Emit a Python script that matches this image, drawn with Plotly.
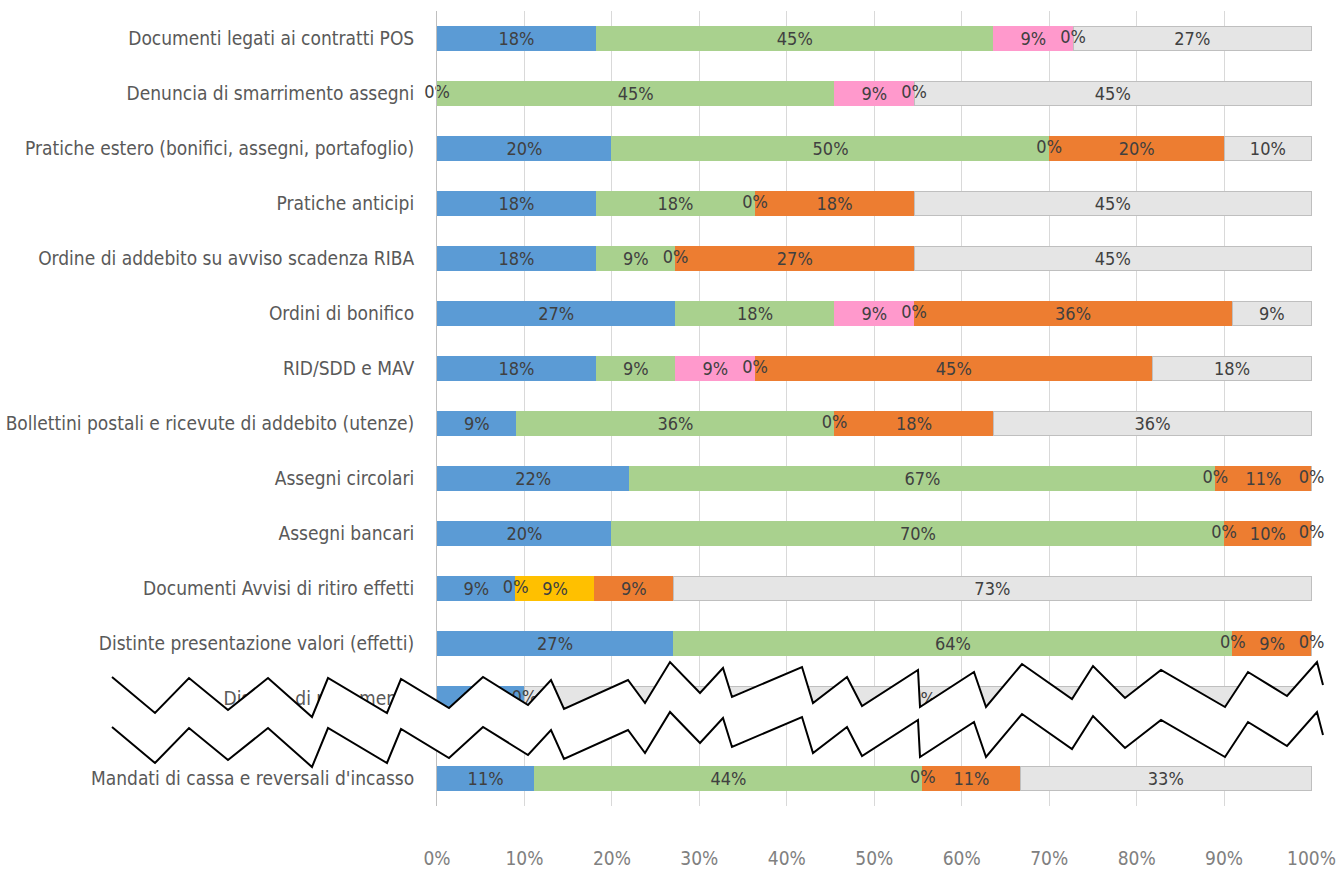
import plotly.graph_objects as go

categories = [
    "Documenti legati ai contratti POS",
    "Denuncia di smarrimento assegni",
    "Pratiche estero (bonifici, assegni, portafoglio)",
    "Pratiche anticipi",
    "Ordine di addebito su avviso scadenza RIBA",
    "Ordini di bonifico",
    "RID/SDD e MAV",
    "Bollettini postali e ricevute di addebito (utenze)",
    "Assegni circolari",
    "Assegni bancari",
    "Documenti Avvisi di ritiro effetti",
    "Distinte presentazione valori (effetti)",
    "Distinte di pagamento",
    "Mandati di cassa e reversali d'incasso",
]

serie_blu = [18, 0, 20, 18, 18, 27, 18, 9, 22, 20, 9, 27, 10, 11]
serie_verde = [45, 45, 50, 18, 9, 18, 9, 36, 67, 70, 0, 64, 0, 44]
serie_rosa = [9, 9, None, None, None, 9, 9, None, None, None, None, None, None, None]
serie_gialla = [0, 0, 0, 0, 0, 0, 0, 0, 0, 0, 9, 0, None, 0]
serie_arancio = [None, None, 20, 18, 27, 36, 45, 18, 11, 10, 9, 9, None, 11]
serie_grigia = [27, 45, 10, 45, 45, 9, 18, 36, 0, 0, 73, 0, 90, 33]

series = [
    ("Serie 1", serie_blu, "#5B9BD5"),
    ("Serie 2", serie_verde, "#A9D18E"),
    ("Serie 3", serie_rosa, "#FF99CC"),
    ("Serie 4", serie_gialla, "#FFC000"),
    ("Serie 5", serie_arancio, "#ED7D31"),
    ("Serie 6", serie_grigia, "#E5E5E5"),
]

x_ticks = [0, 10, 20, 30, 40, 50, 60, 70, 80, 90, 100]

FONT = "Liberation Sans Narrow, DejaVu Sans Condensed, Arial Narrow, sans-serif"
LABEL_FONT = dict(family=FONT, size=18, color="#404040")

fig = go.Figure()
n_top = len(categories) - 1
panels = ((slice(0, n_top), "y"), (slice(n_top, None), "y2"))

for name, vals, color in series:
    txt = [f"{v}%" if v is not None else None for v in vals]
    line_col = "#BFBFBF" if color == "#E5E5E5" else color
    for sl, ax in panels:
        fig.add_trace(go.Bar(
            name=name,
            y=categories[sl],
            x=vals[sl],
            text=txt[sl],
            orientation="h",
            yaxis=ax,
            xaxis="x",
            marker=dict(color=color, line=dict(color=line_col, width=1)),
            textposition="inside",
            insidetextanchor="middle",
            constraintext="none",
            textangle=0,
            textfont=LABEL_FONT,
            showlegend=False,
            hoverinfo="skip",
        ))

# "0%" labels for zero-width segments (bars of zero width carry no text)
row_totals = [sum(v[i] for _, v, _ in series if v[i] is not None)
              for i in range(len(categories))]
zero_x, zero_y = [], []
for i, cat in enumerate(categories):
    cum = 0
    for _, vals, _ in series:
        v = vals[i]
        if v is None:
            continue
        if v == 0:
            zero_x.append(cum / row_totals[i] * 100)
            zero_y.append(cat)
        cum += v
for in_panel, ax in ((lambda c: categories.index(c) < n_top, "y"),
                     (lambda c: categories.index(c) >= n_top, "y2")):
    xs = [x for x, c in zip(zero_x, zero_y) if in_panel(c)]
    ys = [c for c in zero_y if in_panel(c)]
    fig.add_trace(go.Scatter(
        x=xs, y=ys, mode="text", text=["0%"] * len(xs),
        textposition="middle center", textfont=LABEL_FONT,
        xaxis="x", yaxis=ax, showlegend=False, hoverinfo="skip",
        cliponaxis=False,
    ))

# layout geometry (pixels)
L, R, T, B = 437, 24, 11, 68
W, H = 1336, 874
PW, PH = W - L - R, H - T - B
row_px = 55
bottom_frac = row_px / PH
top_rows = (PH - row_px) / row_px

yax_common = dict(
    type="category", showline=True, linecolor="#BFBFBF", linewidth=1,
    showgrid=False, ticks="", ticklabelstandoff=18, automargin=False,
    tickfont=dict(family=FONT, size=19, color="#595959"),
)

fig.update_layout(
    width=W, height=H,
    margin=dict(l=L, r=R, t=T, b=B, autoexpand=False),
    paper_bgcolor="white", plot_bgcolor="white",
    barmode="stack", barnorm="percent", bargap=0.56,
    font=dict(family=FONT),
    xaxis=dict(
        type="linear", range=[0, 100.05], tickmode="array",
        tickvals=x_ticks, ticktext=[f"{v}%" for v in x_ticks],
        showgrid=True, gridcolor="#D9D9D9", gridwidth=1, zeroline=False,
        showline=False, anchor="y2", ticks="", automargin=False,
        ticklabelstandoff=39, ticklabeloverflow="allow",
        tickfont=dict(family=FONT, size=19, color="#808080"),
    ),
    yaxis=dict(
        domain=[bottom_frac, 1],
        categoryorder="array", categoryarray=categories[:n_top],
        range=[top_rows - 0.5, -0.5], **yax_common,
    ),
    yaxis2=dict(
        domain=[0, bottom_frac],
        categoryorder="array", categoryarray=categories[n_top:],
        range=[0.5, -0.5], **yax_common,
    ),
)

# axis-break decoration (zigzag band), pixel points converted to paper coords
zig = [(112, 677), (155, 713), (189, 678), (228, 710), (268, 678), (312, 717),
       (328, 678), (387, 713), (401, 679), (449, 708), (483, 677), (528, 705),
       (551, 680), (564, 709), (628, 680), (645, 703), (670, 662), (700, 693),
       (723, 668), (732, 697), (802, 667), (813, 703), (847, 677), (862, 706),
       (918, 670), (920, 707), (974, 672), (986, 707), (1022, 664), (1072, 699),
       (1093, 666), (1125, 698), (1161, 670), (1225, 707), (1248, 672),
       (1287, 696), (1317, 662), (1323, 685)]
offset = 50


def to_paper(px, py):
    return (px - L) / PW, (T + PH - py) / PH


def path_of(points, close=False):
    parts = []
    for i, (px, py) in enumerate(points):
        xx, yy = to_paper(px, py)
        parts.append(("M" if i == 0 else "L") + f"{xx:.5f},{yy:.5f}")
    return " ".join(parts) + (" Z" if close else "")


top_line = zig
bot_line = [(px, py + offset) for px, py in zig]
band = top_line + bot_line[::-1]

fig.add_shape(type="path", xref="paper", yref="paper", path=path_of(band, True),
              fillcolor="white", line=dict(width=0), layer="above")
for ln in (top_line, bot_line):
    fig.add_shape(type="path", xref="paper", yref="paper", path=path_of(ln),
                  fillcolor="rgba(0,0,0,0)", line=dict(color="black", width=2),
                  layer="above")

fig.write_html("out.html")
